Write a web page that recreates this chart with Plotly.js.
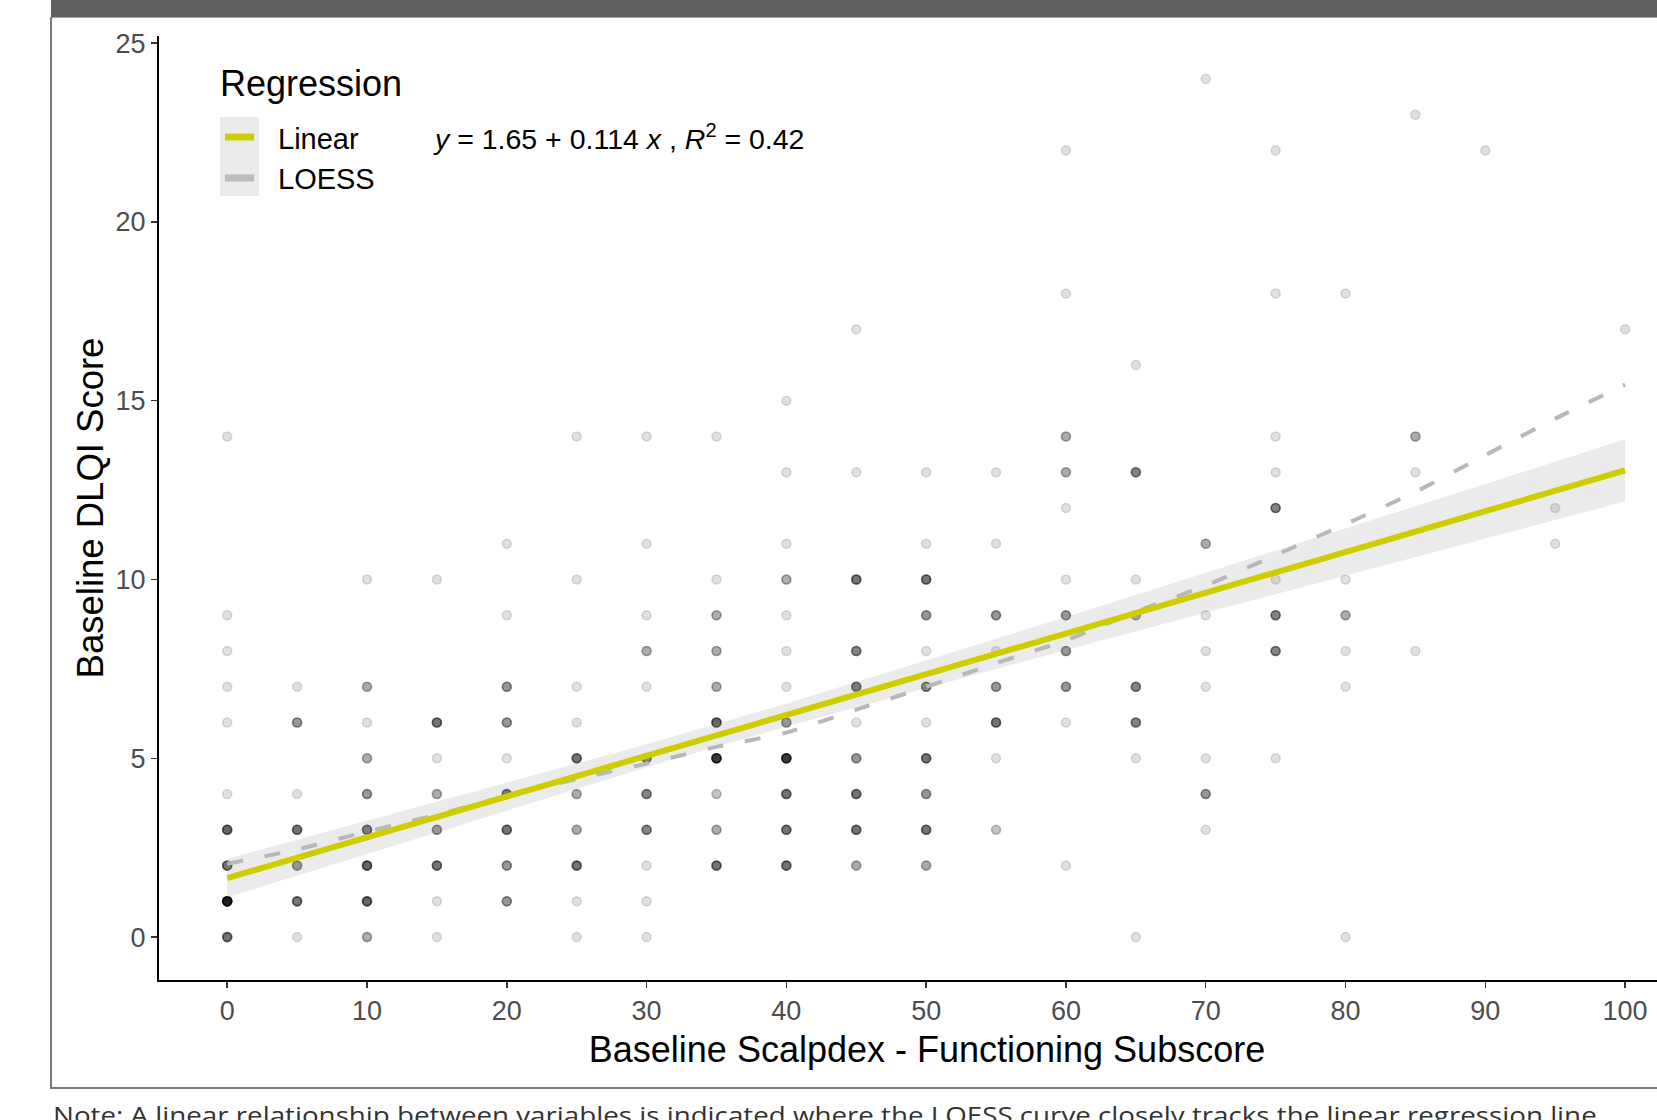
<!DOCTYPE html>
<html>
<head>
<meta charset="utf-8">
<script src="https://cdn.plot.ly/plotly-3.0.1.min.js"></script>
<style>
  html, body { margin: 0; padding: 0; background: #ffffff; overflow: hidden; width: 1657px; height: 1120px; }
  #frame-top { position: absolute; left: 51px; top: 0; width: 1606px; height: 17px; background: #616161; border-bottom: 1px solid #a8a8a8; }
  #frame-left { position: absolute; left: 50px; top: 17px; width: 2px; height: 1072px; background: #7a7a7a; }
  #frame-bottom { position: absolute; left: 50px; top: 1087px; width: 1607px; height: 2px; background: #7a7a7a; }
  #note { position: absolute; left: 0; top: 1088px; }
  #chart { position: absolute; left: 0; top: 0; width: 1700px; height: 1120px; }
</style>
</head>
<body>
<div id="frame-top"></div>
<div id="frame-left"></div>
<div id="frame-bottom"></div>
<div id="chart"></div>
<svg id="note" width="1657" height="40">
  <text x="53" y="36" textLength="1551" lengthAdjust="spacingAndGlyphs"
        font-family="Open Sans, Noto Sans, sans-serif" font-size="23" fill="#333333">Note: A linear relationship between variables is indicated where the LOESS curve closely tracks the linear regression line.</text>
</svg>
<script>
// Baseline scores: one entry per distinct (Scalpdex functioning, DLQI) pair,
// with the number of patients sharing that pair.
const scoreX = [
  0,0,0,0,0,0,0,0,0,0,
  5,5,5,5,5,5,5,
  10,10,10,10,10,10,10,10,10,
  15,15,15,15,15,15,15,15,
  20,20,20,20,20,20,20,20,20,
  25,25,25,25,25,25,25,25,25,25,
  30,30,30,30,30,30,30,30,30,30,30,
  35,35,35,35,35,35,35,35,35,35,
  40,40,40,40,40,40,40,40,40,40,40,40,
  45,45,45,45,45,45,45,45,45,45,
  50,50,50,50,50,50,50,50,50,50,50,
  55,55,55,55,55,55,55,55,
  60,60,60,60,60,60,60,60,60,60,60,
  65,65,65,65,65,65,65,65,
  70,70,70,70,70,70,70,70,
  75,75,75,75,75,75,75,75,75,
  80,80,80,80,80,80,
  85,85,85,85,
  90,
  95,95,
  100
];
const scoreY = [
  14,9,8,7,6,4,3,2,1,0,
  7,6,4,3,2,1,0,
  10,7,6,5,4,3,2,1,0,
  10,6,5,4,3,2,1,0,
  11,9,7,6,5,4,3,2,1,
  14,10,7,6,5,4,3,2,1,0,
  14,11,9,8,7,5,4,3,2,1,0,
  14,10,9,8,7,6,5,4,3,2,
  15,13,11,10,9,8,7,6,5,4,3,2,
  17,13,10,8,7,6,5,4,3,2,
  13,11,10,9,8,7,6,5,4,3,2,
  13,11,9,8,7,6,5,3,
  22,18,14,13,12,10,9,8,7,6,2,
  16,13,10,9,7,6,5,0,
  24,11,9,8,7,5,4,3,
  22,18,14,13,12,10,9,8,5,
  18,10,9,8,7,0,
  23,14,13,8,
  22,
  12,11,
  17
];
const pointCount = [
  1,1,1,1,1,1,7,6,15,6,
  1,4,1,6,4,6,1,
  1,3,1,3,4,6,7,7,3,
  1,6,1,3,4,6,1,1,
  1,1,4,4,1,6,6,4,4,
  1,1,1,1,6,3,3,6,1,1,
  1,1,1,3,1,5,5,5,1,1,1,
  1,1,3,3,3,7,11,2,3,6,
  1,1,1,3,1,1,1,4,11,6,6,6,
  1,1,6,5,6,1,4,6,6,3,
  1,1,6,4,1,5,1,6,4,6,3,
  1,1,4,1,4,6,1,2,
  1,1,3,3,1,1,4,4,4,1,1,
  1,5,1,3,5,5,1,1,
  1,3,1,1,1,1,4,1,
  1,1,1,1,5,1,5,5,1,
  1,1,3,1,1,1,
  1,3,1,1,
  1,
  1,1,
  1
];

// Linear fit (as reported) and its 95% confidence band
const fitIntercept = 1.65;
const fitSlope = 0.114;
const fitR2 = 0.42;
const bandX     = [0, 10, 20, 30, 40, 50, 60, 70, 80, 90, 100];
const bandLower = [1.11, 2.32, 3.55, 4.75, 5.89, 6.97, 8.03, 9.07, 10.12, 11.15, 12.18];
const bandUpper = [2.19, 3.26, 4.31, 5.39, 6.53, 7.73, 8.95, 10.19, 11.42, 12.67, 13.92];

// LOESS smooth
const loessX = [0, 5, 10, 15, 20, 25, 30, 35, 40, 45, 50, 55, 60, 65, 70, 75, 80, 85, 90, 95, 100];
const loessY = [2.05, 2.45, 2.95, 3.42, 3.95, 4.42, 4.85, 5.32, 5.72, 6.36, 7.0, 7.66, 8.3, 9.1, 9.83, 10.68, 11.55, 12.45, 13.48, 14.5, 15.45];

const xTickVals = [0, 10, 20, 30, 40, 50, 60, 70, 80, 90, 100];
const yTickVals = [0, 5, 10, 15, 20, 25];

const FONT = 'Liberation Sans, Arial, sans-serif';

// one translucent marker per patient, so shared scores stack darker
const px = [], py = [];
scoreX.forEach((x, i) => {
  for (let k = 0; k < pointCount[i]; k++) { px.push(x); py.push(scoreY[i]); }
});

const fitX = [bandX[0], bandX[bandX.length - 1]];
const fitY = fitX.map(x => fitIntercept + fitSlope * x);

const traces = [
  {
    type: 'scatter', mode: 'markers', x: px, y: py, hoverinfo: 'skip',
    marker: { size: 9, color: 'rgba(0,0,0,0.12)', line: { color: 'rgba(0,0,0,0.13)', width: 1.6 } }
  },
  {
    type: 'scatter', mode: 'lines', x: bandX, y: bandLower,
    line: { width: 0, color: 'rgba(0,0,0,0)' }, hoverinfo: 'skip'
  },
  {
    type: 'scatter', mode: 'lines', x: bandX, y: bandUpper, fill: 'tonexty',
    fillcolor: 'rgba(153,153,153,0.2)', line: { width: 0, color: 'rgba(0,0,0,0)' }, hoverinfo: 'skip'
  },
  {
    type: 'scatter', mode: 'lines', x: loessX, y: loessY, name: 'LOESS',
    line: { color: '#b8b8b8', width: 4, dash: '16px,22px', shape: 'spline', smoothing: 0.6 }
  },
  {
    type: 'scatter', mode: 'lines', x: fitX, y: fitY, name: 'Linear',
    line: { color: '#cdcd00', width: 6 }
  }
];

// plot area: left 159, width 1536; top 36, height 944
const L = 159, W = 1536, T = 36, H = 944;
const pxX = v => (v - L) / W;
const pxY = v => (T + H - v) / H;

const equation = '<i>y</i> = ' + fitIntercept.toFixed(2) + ' + ' + fitSlope.toFixed(3) +
  ' <i>x</i> , <i>R</i><sup>2</sup> = ' + fitR2.toFixed(2);

const layout = {
  width: 1700, height: 1120,
  margin: { l: L, r: 1700 - L - W, t: T, b: 1120 - T - H },
  paper_bgcolor: 'rgba(0,0,0,0)', plot_bgcolor: 'rgba(0,0,0,0)',
  showlegend: false,
  font: { family: FONT, color: '#000' },
  xaxis: {
    range: [-4.88, 105], automargin: false, showgrid: false, zeroline: false,
    showline: true, linecolor: '#000', linewidth: 2,
    ticks: 'outside', ticklen: 6, tickwidth: 1.5, tickcolor: '#333',
    tickmode: 'array', tickvals: xTickVals,
    tickfont: { family: FONT, size: 27, color: '#4d4d4d' },
    title: { text: 'Baseline Scalpdex - Functioning Subscore', font: { family: FONT, size: 36, color: '#000' }, standoff: 11 }
  },
  yaxis: {
    range: [-1.2, 25.2], automargin: false, showgrid: false, zeroline: false,
    showline: true, linecolor: '#000', linewidth: 2,
    ticks: 'outside', ticklen: 6, tickwidth: 1.5, tickcolor: '#333',
    tickmode: 'array', tickvals: yTickVals,
    tickfont: { family: FONT, size: 27, color: '#4d4d4d' },
    title: { text: 'Baseline DLQI Score', font: { family: FONT, size: 36.5, color: '#000' }, standoff: 1 }
  },
  shapes: [
    { type: 'rect', xref: 'paper', yref: 'paper', x0: pxX(220), x1: pxX(259), y0: pxY(196), y1: pxY(117),
      fillcolor: '#ebebeb', line: { width: 0 }, layer: 'above' },
    { type: 'line', xref: 'paper', yref: 'paper', x0: pxX(225), x1: pxX(254), y0: pxY(137), y1: pxY(137),
      line: { color: '#cdcd00', width: 7 } },
    { type: 'line', xref: 'paper', yref: 'paper', x0: pxX(225), x1: pxX(254), y0: pxY(178), y1: pxY(178),
      line: { color: '#bdbdbd', width: 7 } }
  ],
  annotations: [
    { xref: 'paper', yref: 'paper', x: pxX(218), y: pxY(83), xanchor: 'left', yanchor: 'middle',
      text: 'Regression', showarrow: false, font: { family: FONT, size: 36, color: '#000' } },
    { xref: 'paper', yref: 'paper', x: pxX(276), y: pxY(139), xanchor: 'left', yanchor: 'middle',
      text: 'Linear', showarrow: false, font: { family: FONT, size: 29, color: '#000' } },
    { xref: 'paper', yref: 'paper', x: pxX(276), y: pxY(179), xanchor: 'left', yanchor: 'middle',
      text: 'LOESS', showarrow: false, font: { family: FONT, size: 29, color: '#000' } },
    { xref: 'paper', yref: 'paper', x: pxX(431), y: pxY(137), xanchor: 'left', yanchor: 'middle',
      text: equation, showarrow: false, font: { family: FONT, size: 28.5, color: '#000' } }
  ]
};

Plotly.newPlot('chart', traces, layout, { displayModeBar: false, staticPlot: true });
</script>
</body>
</html>
